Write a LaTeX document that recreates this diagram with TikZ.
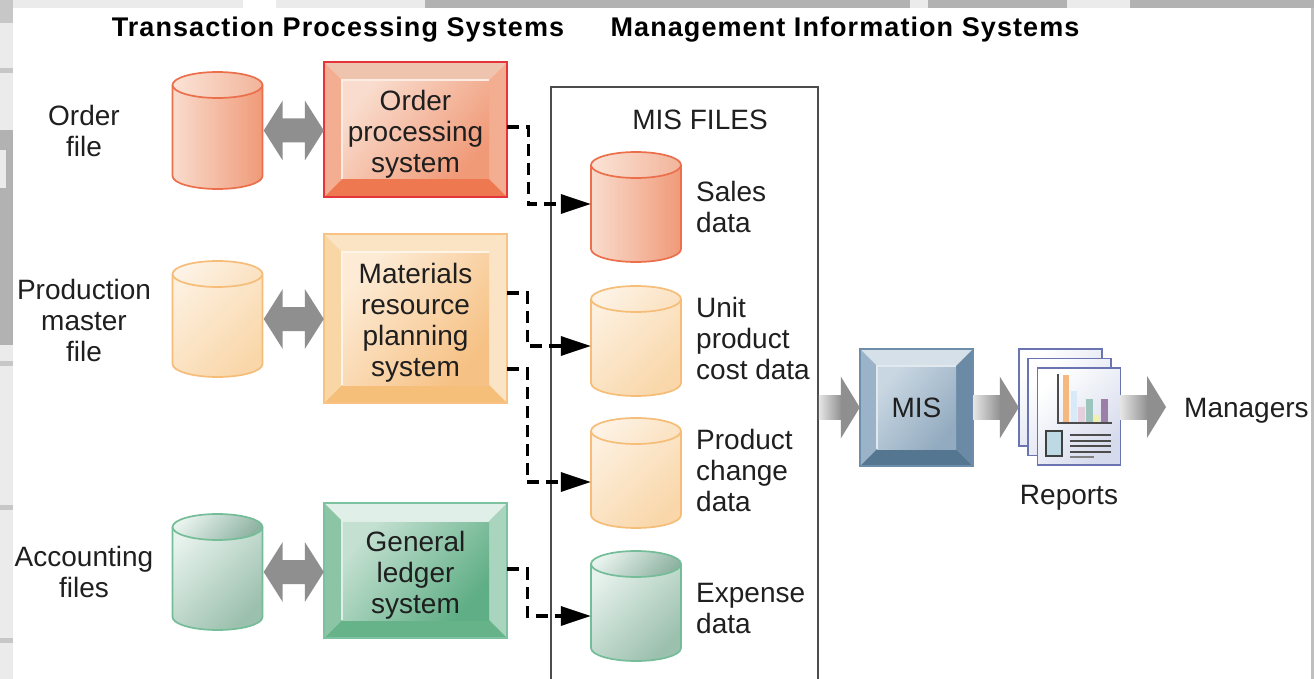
\documentclass[tikz,border=0pt]{standalone}
\usepackage{fontspec}
\setmainfont{Liberation Sans}
\newfontfamily\headfont[LetterSpace=4]{Liberation Sans Bold}
\usetikzlibrary{arrows.meta,calc}
\tikzset{
  lbl/.style={font=\fontsize{28}{31}\selectfont,align=center,inner sep=0pt,text=black!88},
  lblL/.style={lbl,align=left,anchor=west},
  head/.style={font=\fontsize{27}{31}\headfont,inner sep=0pt,anchor=center},
  dashconn/.style={line width=3.4pt,dash pattern=on 12pt off 7pt,-{Triangle[length=30pt,width=19pt]}},
  barcol/.style={draw=none},
}
\definecolor{arrowgray}{HTML}{8F8F8F}
% cylinder palettes: S stroke, A body start, B body end, C cap start, D cap end
\definecolor{redS}{HTML}{EC6F4C}\definecolor{redA}{HTML}{F9DCCD}\definecolor{redB}{HTML}{F09A78}\definecolor{redC}{HTML}{FBE3D6}\definecolor{redD}{HTML}{F2B49A}
\definecolor{orgS}{HTML}{F6BD78}\definecolor{orgA}{HTML}{FDF0DF}\definecolor{orgB}{HTML}{F9D7AA}\definecolor{orgC}{HTML}{FDF3E6}\definecolor{orgD}{HTML}{FBE2C2}
\definecolor{grnS}{HTML}{74BD98}\definecolor{grnA}{HTML}{E8F3EE}\definecolor{grnB}{HTML}{9CC0AE}\definecolor{grnC}{HTML}{E8F3EE}\definecolor{grnD}{HTML}{8FB3A3}
% bevel palettes: T top, L left, R right, M bottom, E edge, I inner start, J inner end
\definecolor{redT}{HTML}{EFC4AE}\definecolor{redL}{HTML}{F3AD90}\definecolor{redR}{HTML}{F3AD90}\definecolor{redM}{HTML}{EE7850}\definecolor{redE}{HTML}{E5343A}\definecolor{redI}{HTML}{F9DCCD}\definecolor{redJ}{HTML}{F09A78}
\definecolor{orgT}{HTML}{FBE4C4}\definecolor{orgL}{HTML}{F9D6A5}\definecolor{orgR}{HTML}{FBE3C5}\definecolor{orgM}{HTML}{F5BF7A}\definecolor{orgE}{HTML}{F7C284}\definecolor{orgI}{HTML}{FDEBD5}\definecolor{orgJ}{HTML}{F6C184}
\definecolor{grnT}{HTML}{E0EFE7}\definecolor{grnL}{HTML}{8CC5A6}\definecolor{grnR}{HTML}{A9D4BD}\definecolor{grnM}{HTML}{66B38A}\definecolor{grnE}{HTML}{7CC2A0}\definecolor{grnI}{HTML}{C4E0D1}\definecolor{grnJ}{HTML}{5FAE85}
\definecolor{misT}{HTML}{D5E0E8}\definecolor{misL}{HTML}{9AB3C8}\definecolor{misR}{HTML}{6B8AA5}\definecolor{misM}{HTML}{557690}\definecolor{misE}{HTML}{6D8EAA}\definecolor{misI}{HTML}{C9D7E2}\definecolor{misJ}{HTML}{93ABC0}
\definecolor{sheetE}{HTML}{6A74B0}\definecolor{sheetF}{HTML}{D5DAEC}
\definecolor{barA}{HTML}{F5B97F}\definecolor{barB}{HTML}{D8EAF8}\definecolor{barC}{HTML}{E6CFDD}\definecolor{barD}{HTML}{9CC5BD}\definecolor{barE}{HTML}{F2F0B0}\definecolor{barF}{HTML}{9B7FA8}\definecolor{miniF}{HTML}{BCD9E4}
% name, x1, y1, y2, palette, angle
\newcommand\cyl[6]{%
  \shade[left color=#5A,right color=#5B,shading angle=#6]
    (#2,#3+13) -- (#2,#4-13) arc[start angle=180,end angle=360,x radius=45pt,y radius=13pt] -- (#2+90,#3+13) arc[start angle=0,end angle=180,x radius=45pt,y radius=13pt] -- cycle;
  \draw[#5S,line width=1.7pt] (#2,#3+13) -- (#2,#4-13) arc[start angle=180,end angle=360,x radius=45pt,y radius=13pt] -- (#2+90,#3+13);
  \shade[left color=#5C,right color=#5D,shading angle=#6,draw=#5S,line width=1.7pt]
    (#2+45,#3+13) ellipse[x radius=45pt,y radius=13pt];
  \node[minimum width=90pt,minimum height=#4pt-#3pt,inner sep=0pt] (#1) at (#2+45,{(#3+#4)/2}) {};
}
% name, x1,y1,x2,y2,d, palette, text, text shift
\newcommand\bevel[9]{%
  \fill[#7T] (#2,#3) -- (#4,#3) -- (#4-#6,#3+#6) -- (#2+#6,#3+#6) -- cycle;
  \fill[#7L] (#2,#3) -- (#2+#6,#3+#6) -- (#2+#6,#5-#6) -- (#2,#5) -- cycle;
  \fill[#7R] (#4,#3) -- (#4-#6,#3+#6) -- (#4-#6,#5-#6) -- (#4,#5) -- cycle;
  \fill[#7M] (#2,#5) -- (#2+#6,#5-#6) -- (#4-#6,#5-#6) -- (#4,#5) -- cycle;
  \shade[left color=#7I,right color=#7J,shading angle=50] (#2+#6,#3+#6) rectangle (#4-#6,#5-#6);
  \draw[white!45!#7I,line width=1.2pt] (#2+#6,#5-#6) -- (#2+#6,#3+#6) -- (#4-#6,#3+#6);
  \draw[#7E,line width=1.6pt] (#2,#3) rectangle (#4,#5);
  \node[minimum width=#4pt-#2pt,minimum height=#5pt-#3pt,inner sep=0pt] (#1) at ({(#2+#4)/2},{(#3+#5)/2}) {};
  \node[lbl] (#1t) at ({(#2+#4)/2},{(#3+#5)/2+#9}) {#8};
}
\newcommand\blockarrow[2]{%
  \shade[left color=black!10,right color=arrowgray] let \p1=(#1),\p2=(#2) in (\x1,\y1-12pt) rectangle (\x2-18pt,\y1+12pt);
  \fill[arrowgray] let \p1=(#1),\p2=(#2) in (\x2-19pt,\y1+31pt) -- (\x2,\y1) -- (\x2-19pt,\y1-31pt) -- cycle;
}
\newcommand\dblarrow[2]{%
  \fill[arrowgray] let \p1=(#1),\p2=(#2) in (\x1+1pt,\y1) -- (\x1+20pt,\y1+30pt) -- (\x1+20pt,\y1+12pt) -- (\x2-19pt,\y1+12pt) -- (\x2-19pt,\y1+30pt) -- (\x2,\y1) -- (\x2-19pt,\y1-30pt) -- (\x2-19pt,\y1-12pt) -- (\x1+20pt,\y1-12pt) -- (\x1+20pt,\y1-30pt) -- cycle;
}
\newcommand\sheet[2]{%
  \shade[left color=white,right color=sheetF,shading angle=45,draw=sheetE,line width=1.4pt] (#1,#2) rectangle (#1+83,#2+97);
}
\begin{document}
\begin{tikzpicture}[x=1pt,y=-1pt]
\useasboundingbox (0,0) rectangle (1314,679);
% scanned backdrop at the margins
\fill[black!8] (0,0) rectangle (1314,679);
\fill[black!30] (425,0) rectangle (1314,8);
\fill[black!8] (910,0) rectangle (928,8);
\fill[black!8] (1067,0) rectangle (1130,8);
\fill[white] (243,0) rectangle (276,8);
\fill[black!22] (0,0) rectangle (13,23);
\fill[black!30] (0,130) rectangle (13,345);
\fill[black!8] (0,150) rectangle (6,188);
\fill[black!22] (0,68) rectangle (13,73);
\fill[black!22] (0,361) rectangle (13,366);
\fill[black!22] (0,505) rectangle (13,510);
\fill[black!22] (0,638) rectangle (13,643);
\fill[black!25] (1311,8) rectangle (1314,679);
\fill[white] (13,8) rectangle (1311,679);

% headings
\node[head] (h1) at (338,30) {Transaction Processing Systems};
\node[head] (h2) at (845,30) {Management Information Systems};

% MIS files frame
\node[draw=black!70,line width=1.6pt,fill=white,minimum width=267pt,minimum height=640pt,inner sep=0pt] (mfiles) at (684.5,407) {};
\node[lbl] (mft) at (700,120) {MIS FILES};

% left labels
\node[lbl] (l1) at (84,131) {Order\\file};
\node[lbl] (l2) at (84,320) {Production\\master\\file};
\node[lbl] (l3) at (84,572) {Accounting\\files};

% left cylinders
\cyl{c1}{172.5}{72}{189}{red}{90}
\cyl{c2}{172.5}{261}{377}{org}{45}
\cyl{c3}{172.5}{514}{630}{grn}{45}

% system boxes
\bevel{b1}{324}{62}{507}{197}{18}{red}{Order\\processing\\system}{5}
\bevel{b2}{324}{234}{507}{403}{18}{org}{Materials\\resource\\planning\\system}{4}
\bevel{b3}{324}{503}{507}{638}{18}{grn}{General\\ledger\\system}{4.5}

% double arrows
\dblarrow{c1.east}{b1.west}
\dblarrow{c2.east}{b2.west}
\dblarrow{c3.east}{b3.west}

% MIS file cylinders
\cyl{d1}{591}{152}{262}{red}{90}
\cyl{d2}{591}{286}{396}{org}{45}
\cyl{d3}{591}{418}{528}{org}{45}
\cyl{d4}{591}{551}{661}{grn}{45}
\node[lblL] (t1) at (696,206.5) {Sales\\data};
\node[lblL] (t2) at (696,338.5) {Unit\\product\\cost data};
\node[lblL] (t3) at (696,470) {Product\\change\\data};
\node[lblL] (t4) at (696,608) {Expense\\data};

% dashed connectors
\draw[dashconn] ([yshift=2.5pt]b1.east) -- ++(21,0) |- ([yshift=3pt]d1.west);
\draw[dashconn] ([yshift=25.5pt]b2.east) -- ++(20,0) |- ([yshift=-5pt]d2.west);
\draw[dashconn] ([yshift=-50.5pt]b2.east) -- ++(20,0) |- ([yshift=-9pt]d3.west);
\draw[dashconn] ([yshift=1.5pt]b3.east) -- ++(20,0) |- ([yshift=-10pt]d4.west);

% MIS
\bevel{mis}{860}{349}{973}{466}{17}{mis}{MIS}{0}

% reports
\sheet{1019}{349}
\sheet{1028}{358.5}
\sheet{1037.5}{368}
\node[minimum width=101pt,minimum height=116pt,inner sep=0pt] (rep) at (1069.5,407) {};
\fill[barA] (1063,375) rectangle (1069,422);
\fill[barB] (1071,391) rectangle (1077,422);
\fill[barC] (1078,407) rectangle (1085,422);
\fill[barD] (1086,399) rectangle (1093,422);
\fill[barE] (1094,415) rectangle (1099,422);
\fill[barF] (1101,399) rectangle (1108,422);
\draw[black!70,line width=1.3pt] (1058,374) -- (1058,423) -- (1112,423);
\draw[black!75,fill=miniF,line width=1.4pt] (1046,431) rectangle (1062,456);
\draw[black!70,line width=1.3pt] (1070,435) -- (1111,435) (1070,441) -- (1111,441) (1070,446) -- (1111,446) (1070,452) -- (1111,452);
\draw[black!50,line width=1.3pt] (1070,457) -- (1094,457);
\node[lbl] (rl) at (1069,498) {Reports};
\node[lblL] (mgr) at (1184,411) {Managers};

% block arrows
\blockarrow{mis.west -| mfiles.east}{mis.west}
\blockarrow{mis.east}{rep.west}
\blockarrow{rep.east}{[xshift=-18pt]mgr.west}
\end{tikzpicture}
\end{document}
